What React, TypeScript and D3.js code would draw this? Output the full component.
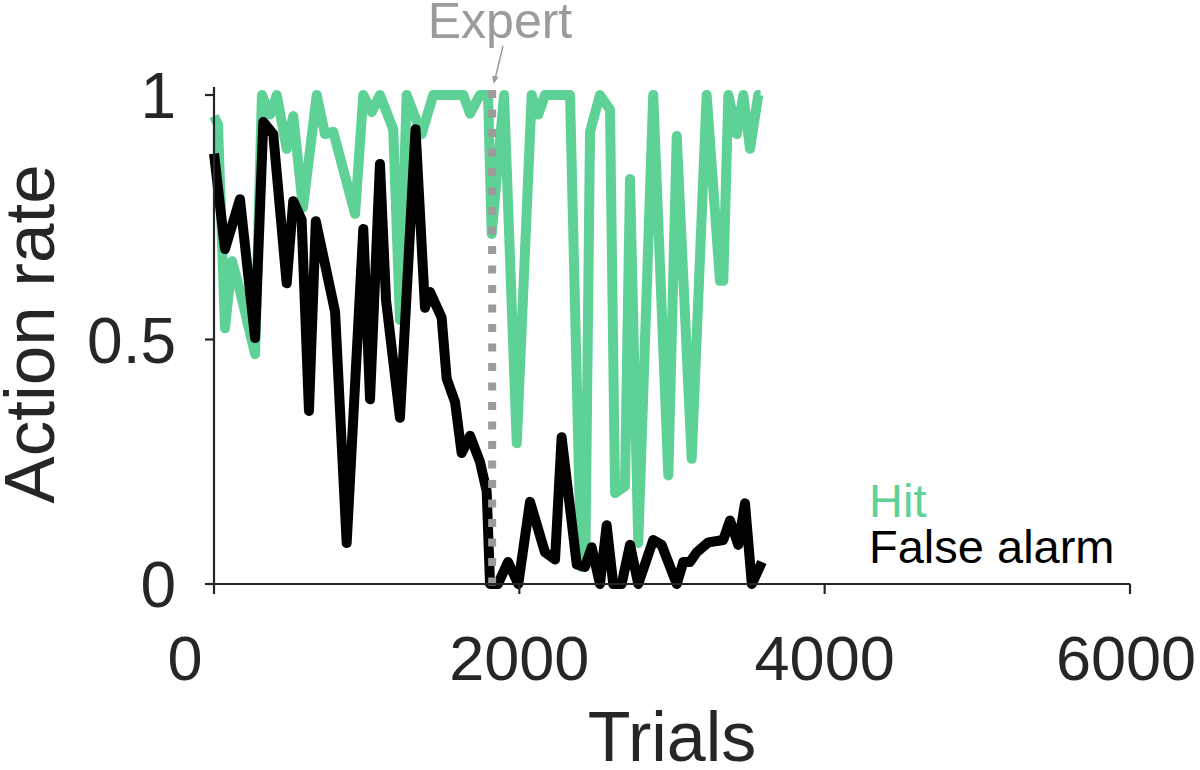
import React from "react";
import * as d3 from "d3";

// False alarm series (trial, rate)
const faTrials = [0, 72, 170, 269, 323, 388, 476, 519, 574, 622, 667, 793, 869, 978, 1022, 1087, 1127, 1218, 1320, 1382, 1415, 1491, 1524, 1579, 1622, 1677, 1742, 1786, 1808, 1860, 1926, 1993, 2070, 2168, 2234, 2277, 2376, 2430, 2474, 2528, 2572, 2615, 2670, 2725, 2779, 2877, 2932, 3031, 3074, 3118, 3162, 3238, 3336, 3380, 3434, 3478, 3523, 3589];
const faRates = [0.88, 0.685, 0.787, 0.503, 0.945, 0.92, 0.615, 0.783, 0.745, 0.354, 0.742, 0.557, 0.084, 0.726, 0.378, 0.859, 0.58, 0.34, 0.93, 0.565, 0.597, 0.545, 0.42, 0.372, 0.268, 0.303, 0.25, 0.19, 0.0, 0.0, 0.045, 0.0, 0.168, 0.065, 0.05, 0.3, 0.04, 0.035, 0.075, 0.0, 0.12, 0.0, 0.0, 0.08, 0.0, 0.09, 0.08, 0.0, 0.045, 0.045, 0.065, 0.085, 0.09, 0.13, 0.08, 0.165, 0.0, 0.045];

// Hit series (trial, rate)
const hitTrials = [0, 26, 72, 118, 170, 269, 314, 367, 411, 476, 519, 583, 673, 727, 781, 924, 978, 1033, 1087, 1174, 1218, 1262, 1360, 1436, 1633, 1677, 1742, 1795, 1819, 1900, 1983, 2081, 2124, 2168, 2332, 2405, 2432, 2463, 2528, 2594, 2627, 2692, 2725, 2779, 2877, 2976, 3031, 3129, 3227, 3314, 3336, 3369, 3424, 3467, 3511, 3565, 3580];
const hitRates = [0.957, 0.94, 0.523, 0.66, 0.6, 0.47, 1.0, 0.96, 1.0, 0.89, 0.957, 0.77, 1.0, 0.92, 0.925, 0.757, 1.0, 0.965, 1.0, 0.93, 0.54, 1.0, 0.92, 1.0, 1.0, 0.962, 1.0, 1.0, 0.716, 1.0, 0.288, 1.0, 0.96, 1.0, 1.0, 0.035, 0.04, 0.925, 1.0, 0.97, 0.186, 0.2, 0.828, 0.084, 1.0, 0.222, 0.916, 0.256, 1.0, 0.62, 0.62, 1.0, 0.92, 1.0, 0.89, 1.0, 1.0];

const xTicks = [0, 2000, 4000, 6000];
const yTicks = [0, 0.5, 1];
const yTickLabels = ["0", "0.5", "1"];
const expertTrial = 1822;
const legendLabels = ["Hit", "False alarm"];

const GREEN = "#5dd196";
const AXIS = "#262626";
const GRAY = "#9b9b9b";
const FONT = "'Liberation Sans', Arial, Helvetica, sans-serif";

export default function App() {
  const x = d3.scaleLinear().domain([0, 6000]).range([214, 1130]);
  const y = d3.scaleLinear().domain([0, 1.0164]).range([584, 87]);

  const line = d3
    .line<[number, number]>()
    .x((d) => x(d[0]))
    .y((d) => y(d[1]));

  const hitPts = hitTrials.map((t, i) => [t, hitRates[i]] as [number, number]);
  const faPts = faTrials.map((t, i) => [t, faRates[i]] as [number, number]);

  const ex = x(expertTrial);

  return (
    <svg
      width={1200}
      height={770}
      style={{ position: "absolute", left: 0, top: 0, background: "#fff" }}
      fontFamily={FONT}
    >
      {/* data lines */}
      <path d={line(hitPts) || ""} fill="none" stroke={GREEN} strokeWidth={10} strokeLinejoin="round" />
      <path d={line(faPts) || ""} fill="none" stroke="#000" strokeWidth={10} strokeLinejoin="round" />

      {/* expert dashed line */}
      <line x1={ex} x2={ex} y1={y(1) - 5} y2={y(0) + 3} stroke={GRAY} strokeWidth={8} strokeDasharray="8 11.5" />

      {/* axes */}
      <line x1={x(0)} x2={x(0)} y1={y(1.0164)} y2={y(0) + 1} stroke={AXIS} strokeWidth={2.2} />
      <line x1={x(0) - 1} x2={x(6000)} y1={y(0)} y2={y(0)} stroke={AXIS} strokeWidth={2.2} />
      {yTicks.map((t) => (
        <line key={"yt" + t} x1={x(0) - 9} x2={x(0)} y1={y(t)} y2={y(t)} stroke={AXIS} strokeWidth={2.2} />
      ))}
      {xTicks.map((t) => (
        <line key={"xt" + t} x1={x(t)} x2={x(t)} y1={y(0)} y2={y(0) + 10} stroke={AXIS} strokeWidth={2.2} />
      ))}
      {yTicks.map((t, i) => (
        <text key={"yl" + t} x={176} y={y(t) + 23} fontSize={64} textAnchor="end" fill={AXIS}>
          {yTickLabels[i]}
        </text>
      ))}
      {xTicks.map((t) => (
        <text
          key={"xl" + t}
          x={t === 0 ? x(t) - 29 : t === 6000 ? x(t) - 4 : x(t)}
          y={680}
          fontSize={63}
          textAnchor="middle"
          fill={AXIS}
        >
          {String(t)}
        </text>
      ))}

      {/* axis titles */}
      <text x={672} y={761} fontSize={70} textAnchor="middle" fill={AXIS}>
        Trials
      </text>
      <text transform="translate(54,334) rotate(-90)" fontSize={71} textAnchor="middle" fill={AXIS}>
        Action rate
      </text>

      {/* legend */}
      <text x={869} y={517} fontSize={47} fill={GREEN}>
        {legendLabels[0]}
      </text>
      <text x={869} y={563} fontSize={47} fill="#000">
        {legendLabels[1]}
      </text>

      {/* Expert annotation */}
      <text x={500} y={38} fontSize={50} textAnchor="middle" fill={GRAY}>
        Expert
      </text>
      <line x1={503} y1={46} x2={495.5} y2={77} stroke={GRAY} strokeWidth={1.5} />
      <path d="M 493.6 84 L 492.2 75.5 L 498.6 77 Z" fill={GRAY} />
    </svg>
  );
}
